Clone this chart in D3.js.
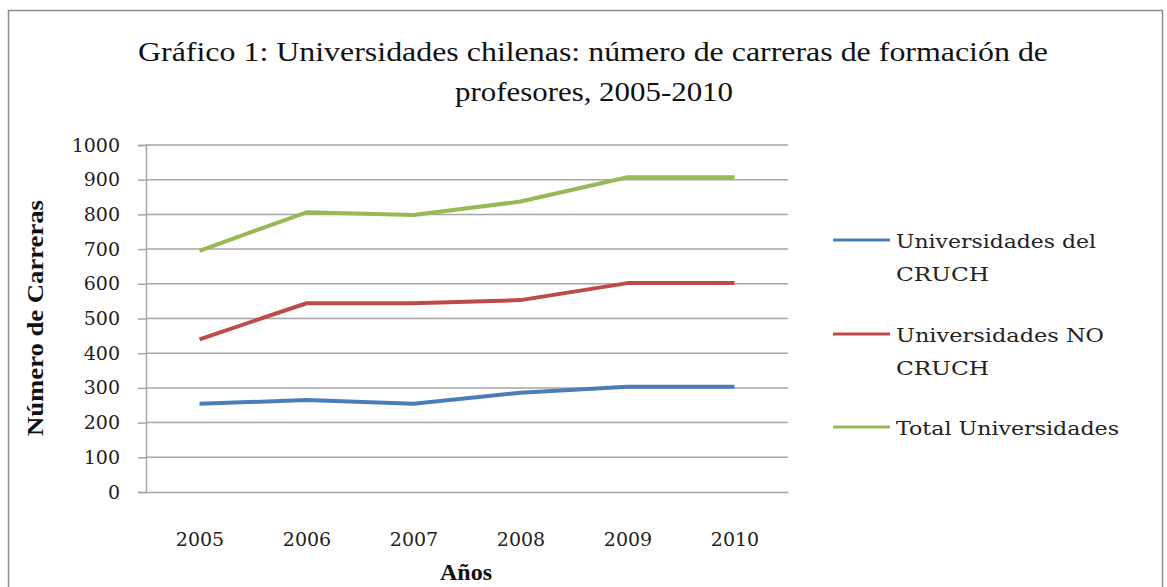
<!DOCTYPE html>
<html><head><meta charset="utf-8">
<script src="https://cdn.jsdelivr.net/npm/d3@7/dist/d3.min.js"></script>
<style>body{margin:0;background:#fff;} svg{display:block;}</style>
</head><body>
<svg id="c" width="1167" height="587"></svg>
<script>
const years = ["2005","2006","2007","2008","2009","2010"];
const cruch = [254, 265, 254, 286, 303, 303];
const noCruch = [440, 544, 544, 553, 602, 602];
const total = [695, 806, 798, 837, 907, 907];
const yTicks = [0,100,200,300,400,500,600,700,800,900,1000];
const seriesNames = [["Universidades del","CRUCH"],["Universidades NO","CRUCH"],["Total Universidades"]];
const seriesColors = ["#4a7ebb","#be4b48","#98b954"];
const series = [cruch, noCruch, total];

const svg = d3.select("#c");
const serif = "'Liberation Serif','DejaVu Serif',serif";
const wide = "'DejaVu Serif','Liberation Serif',serif";

// outer border
svg.append("rect").attr("x",8.5).attr("y",10.5).attr("width",1154).attr("height",600)
  .attr("fill","none").attr("stroke","#8c8c8c").attr("stroke-width",1.5);

const L=146, R=788, T=145, B=492;
const x = d3.scalePoint().domain(years).range([L,R]).padding(0.5);
const y = d3.scaleLinear().domain([0,1000]).range([B,T]);

// gridlines
svg.append("g").selectAll("line").data(yTicks.filter(d=>d>0)).join("line")
  .attr("x1",L).attr("x2",R).attr("y1",d=>y(d)).attr("y2",d=>y(d))
  .attr("stroke","#a6a6a6").attr("stroke-width",1.5);

// y axis
const ya = svg.append("g").attr("transform",`translate(${L},0)`)
  .call(d3.axisLeft(y).tickValues(yTicks).tickFormat(d3.format("d")).tickSize(8).tickPadding(18));
ya.attr("font-size",19).attr("font-family",wide);
ya.select(".domain").attr("stroke","#a6a6a6").attr("stroke-width",1.5);
ya.selectAll(".tick line").attr("stroke","#a6a6a6").attr("stroke-width",1.5);
ya.selectAll("text").attr("fill","#222");

// x axis
const xa = svg.append("g").attr("transform",`translate(0,${B})`)
  .call(d3.axisBottom(x).tickSize(0).tickPadding(41));
xa.attr("font-size",19).attr("font-family",wide);
xa.select(".domain").attr("stroke","#a6a6a6").attr("stroke-width",1.5);
xa.selectAll("text").attr("fill","#222");

// lines
const line = d3.line().x((d,i)=>x(years[i])).y(d=>y(d));
series.forEach((s,k)=>{
  svg.append("path").datum(s).attr("d",line).attr("fill","none")
    .attr("stroke",seriesColors[k]).attr("stroke-width",4).attr("stroke-linejoin","round");
});

// title
svg.append("text").attr("x",593).attr("y",61).attr("text-anchor","middle")
  .attr("font-family",serif).attr("font-size",28).attr("fill","#111")
  .attr("textLength",910).attr("lengthAdjust","spacingAndGlyphs")
  .text("Gráfico 1: Universidades chilenas: número de carreras de formación de");
svg.append("text").attr("x",594).attr("y",101).attr("text-anchor","middle")
  .attr("font-family",serif).attr("font-size",28).attr("fill","#111")
  .attr("textLength",278).attr("lengthAdjust","spacingAndGlyphs")
  .text("profesores, 2005-2010");

// axis titles
svg.append("text").attr("x",466).attr("y",580).attr("text-anchor","middle")
  .attr("font-family",serif).attr("font-size",24).attr("font-weight","bold").attr("fill","#111")
  .text("Años");
svg.append("text").attr("transform","translate(43,318) rotate(-90)").attr("text-anchor","middle")
  .attr("font-family",serif).attr("font-size",24).attr("font-weight","bold").attr("fill","#111")
  .attr("textLength",236).attr("lengthAdjust","spacingAndGlyphs")
  .text("Número de Carreras");

// legend
const legY = [240, 334, 427];
const legW = [[200,93],[208,93],[223]];
seriesNames.forEach((nm,k)=>{
  const g = svg.append("g");
  g.append("line").attr("x1",833).attr("x2",890).attr("y1",legY[k]).attr("y2",legY[k])
    .attr("stroke",seriesColors[k]).attr("stroke-width",3);
  nm.forEach((t,j)=>{
    g.append("text").attr("x",896).attr("y",legY[k]+8+j*33)
      .attr("font-family",wide).attr("font-size",19).attr("fill","#222")
      .attr("textLength",legW[k][j]).attr("lengthAdjust","spacingAndGlyphs").text(t);
  });
});
</script>
</body></html>
